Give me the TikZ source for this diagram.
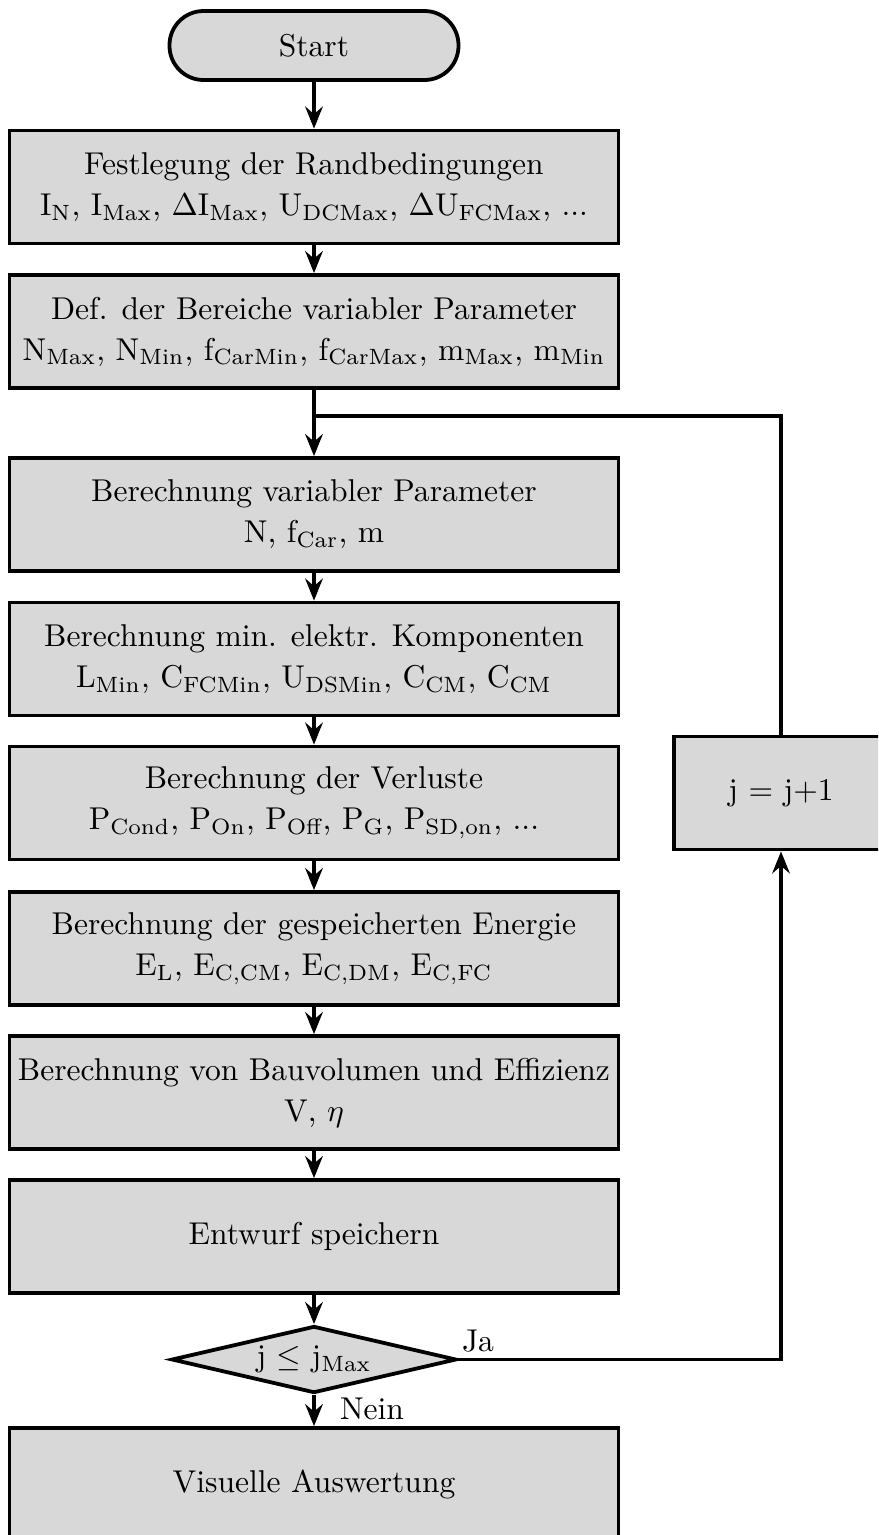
\documentclass[tikz,border=0pt]{standalone}
\usetikzlibrary{shapes.geometric,arrows.meta}
\definecolor{boxgray}{RGB}{216,216,216}
\newcommand\tsub[1]{\textsubscript{#1}}
\def\pxu{0.317pt}
\tikzset{
  every node/.style={font=\fontsize{10}{13}\selectfont},
  procbox/.style={draw, line width=1.2pt, fill=boxgray, rectangle, align=center,
    inner sep=0pt, minimum width=609*\pxu, minimum height=113*\pxu},
  startbox/.style={draw, line width=1.2pt, fill=boxgray, rectangle, rounded corners=10.8pt,
    inner sep=0pt, minimum width=289*\pxu, minimum height=69*\pxu},
  jbox/.style={draw, line width=1.2pt, fill=boxgray, rectangle,
    inner sep=0pt, minimum width=214*\pxu, minimum height=113*\pxu},
  decision/.style={draw, line width=1.2pt, fill=boxgray, diamond, aspect=4.25,
    inner sep=0pt, minimum width=285*\pxu, minimum height=67*\pxu},
  arr/.style={line width=1pt, -{Stealth[length=7pt,width=5.6pt,inset=2.4pt]}},
  conn/.style={line width=1pt},
  lbl/.style={inner sep=0pt}
}
\begin{document}
\begin{tikzpicture}[x=\pxu, y=-\pxu]
\useasboundingbox (0,0) rectangle (878,1535);
\clip (0,0) rectangle (878,1535);

\node[startbox] (start) at (314,45.5) {Start};
\node[procbox] (b1) at (314,187) {Festlegung der Randbedingungen\\
  I\tsub{N}, I\tsub{Max}, $\Delta$I\tsub{Max}, U\tsub{DCMax}, $\Delta$U\tsub{FCMax}, ...};
\node[procbox] (b2) at (314,331.5) {Def. der Bereiche variabler Parameter\\
  N\tsub{Max}, N\tsub{Min}, f\tsub{CarMin}, f\tsub{CarMax}, m\tsub{Max}, m\tsub{Min}};
\node[procbox] (b3) at (314,514.5) {Berechnung variabler Parameter\\
  N, f\tsub{Car}, m};
\node[procbox] (b4) at (314,659) {Berechnung min. elektr. Komponenten\\
  L\tsub{Min}, C\tsub{FCMin}, U\tsub{DSMin}, C\tsub{CM}, C\tsub{CM}};
\node[procbox] (b5) at (314,803) {Berechnung der Verluste\\
  P\tsub{Cond}, P\tsub{On}, P\tsub{Off}, P\tsub{G}, P\tsub{SD,on}, ...};
\node[procbox] (b6) at (314,948.5) {Berechnung der gespeicherten Energie\\
  E\tsub{L}, E\tsub{C,CM}, E\tsub{C,DM}, E\tsub{C,FC}};
\node[procbox] (b7) at (314,1092.5) {Berechnung von Bauvolumen und Effizienz\\
  V, $\eta$};
\node[procbox] (b8) at (314,1236.5) {Entwurf speichern};
\node[decision] (d) at (314,1359.5) {j $\leq$ j\tsub{Max}};
\node[procbox] (b9) at (314,1484.5) {Visuelle Auswertung};
\node[jbox] (jb) at (781,793) {j = j+1};

\coordinate (jn) at (314,416);

\draw[arr] (start) -- (b1);
\draw[arr] (b1) -- (b2);
\draw[arr] (b2) -- (b3);
\draw[conn] (jn) -| (jb.north);
\draw[arr] (b3) -- (b4);
\draw[arr] (b4) -- (b5);
\draw[arr] (b5) -- (b6);
\draw[arr] (b6) -- (b7);
\draw[arr] (b7) -- (b8);
\draw[arr] (b8) -- (d);
\draw[arr] (d) -- (b9);
\draw[arr] (d.east) -| (jb.south);

\node[lbl] (ja) at (478,1341) {Ja};
\node[lbl] (nein) at (372,1409) {Nein};
\end{tikzpicture}
\end{document}
